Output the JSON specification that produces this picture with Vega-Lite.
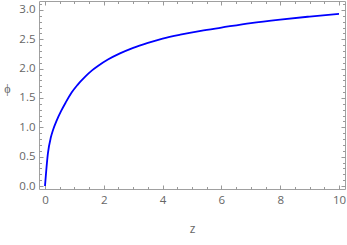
{
  "$schema": "https://vega.github.io/schema/vega-lite/v6.json",
  "width": 306,
  "height": 188,
  "autosize": {"type": "none"},
  "padding": {"left": 39, "top": 1, "right": 2, "bottom": 56},
  "background": "white",
  "config": {
    "view": {"stroke": "#a0a0a0", "strokeWidth": 1},
    "axis": {
      "domain": false,
      "grid": false,
      "ticks": true,
      "labelFont": "Open Sans",
      "labelFontSize": 11.5,
      "labelColor": "#666666",
      "titleFont": "Open Sans",
      "titleFontSize": 12,
      "titleColor": "#666666",
      "titleFontWeight": "normal",
      "tickColor": "#999999",
      "tickWidth": 1
    }
  },
  "data": {
    "values": [
      {"z": 0, "phi": 0},
      {"z": 0.1, "phi": 0.56},
      {"z": 0.2, "phi": 0.83},
      {"z": 0.27, "phi": 0.95},
      {"z": 0.4, "phi": 1.12},
      {"z": 0.55, "phi": 1.28},
      {"z": 0.7, "phi": 1.42},
      {"z": 0.9, "phi": 1.59},
      {"z": 1.1, "phi": 1.72},
      {"z": 1.36, "phi": 1.86},
      {"z": 1.6, "phi": 1.97},
      {"z": 1.8, "phi": 2.045},
      {"z": 2.14, "phi": 2.155},
      {"z": 2.55, "phi": 2.26},
      {"z": 3.0, "phi": 2.355},
      {"z": 3.5, "phi": 2.44},
      {"z": 4.0, "phi": 2.513},
      {"z": 4.6, "phi": 2.58},
      {"z": 5.3, "phi": 2.645},
      {"z": 6.0, "phi": 2.70},
      {"z": 7.0, "phi": 2.777},
      {"z": 8.0, "phi": 2.837},
      {"z": 9.0, "phi": 2.888},
      {"z": 10, "phi": 2.935}
    ]
  },
  "resolve": {"axis": {"x": "independent", "y": "independent"}},
  "layer": [
    {
      "mark": {"type": "line", "color": "#0000ff", "strokeWidth": 1.8, "interpolate": "monotone", "clip": true},
      "encoding": {
        "x": {"field": "z", "type": "quantitative", "scale": {"domain": [-0.204, 10.204], "nice": false, "zero": false},
          "axis": {"orient": "bottom", "values": [0, 2, 4, 6, 8, 10], "format": "d", "offset": -4, "tickSize": 4, "labelPadding": 5, "title": "z", "titlePadding": 18}},
        "y": {"field": "phi", "type": "quantitative", "scale": {"domain": [-0.051, 3.153], "nice": false, "zero": false},
          "axis": {"orient": "left", "values": [0, 0.5, 1, 1.5, 2, 2.5, 3], "format": ".1f", "offset": -4, "tickSize": 4, "labelPadding": 4, "title": "ϕ", "titleAngle": 0, "titlePadding": 12}}
      }
    },
    {
      "mark": {"type": "line", "opacity": 0},
      "encoding": {
        "x": {"field": "z", "type": "quantitative", "axis": {"orient": "bottom", "values": [0.5, 1, 1.5, 2.5, 3, 3.5, 4.5, 5, 5.5, 6.5, 7, 7.5, 8.5, 9, 9.5], "labels": false, "offset": -2.5, "tickSize": 2.5, "title": null}},
        "y": {"field": "phi", "type": "quantitative", "axis": {"orient": "left", "values": [0.1, 0.2, 0.3, 0.4, 0.6, 0.7, 0.8, 0.9, 1.1, 1.2, 1.3, 1.4, 1.6, 1.7, 1.8, 1.9, 2.1, 2.2, 2.3, 2.4, 2.6, 2.7, 2.8, 2.9, 3.1], "labels": false, "offset": -2.5, "tickSize": 2.5, "title": null}}
      }
    },
    {
      "mark": {"type": "line", "opacity": 0},
      "encoding": {
        "x": {"field": "z", "type": "quantitative", "axis": {"orient": "top", "values": [0, 2, 4, 6, 8, 10], "labels": false, "offset": -4, "tickSize": 4, "title": null}},
        "y": {"field": "phi", "type": "quantitative", "axis": {"orient": "right", "values": [0, 0.5, 1, 1.5, 2, 2.5, 3], "labels": false, "offset": -4, "tickSize": 4, "title": null}}
      }
    },
    {
      "mark": {"type": "line", "opacity": 0},
      "encoding": {
        "x": {"field": "z", "type": "quantitative", "axis": {"orient": "top", "values": [0.5, 1, 1.5, 2.5, 3, 3.5, 4.5, 5, 5.5, 6.5, 7, 7.5, 8.5, 9, 9.5], "labels": false, "offset": -2.5, "tickSize": 2.5, "title": null}},
        "y": {"field": "phi", "type": "quantitative", "axis": {"orient": "right", "values": [0.1, 0.2, 0.3, 0.4, 0.6, 0.7, 0.8, 0.9, 1.1, 1.2, 1.3, 1.4, 1.6, 1.7, 1.8, 1.9, 2.1, 2.2, 2.3, 2.4, 2.6, 2.7, 2.8, 2.9, 3.1], "labels": false, "offset": -2.5, "tickSize": 2.5, "title": null}}
      }
    }
  ]
}
